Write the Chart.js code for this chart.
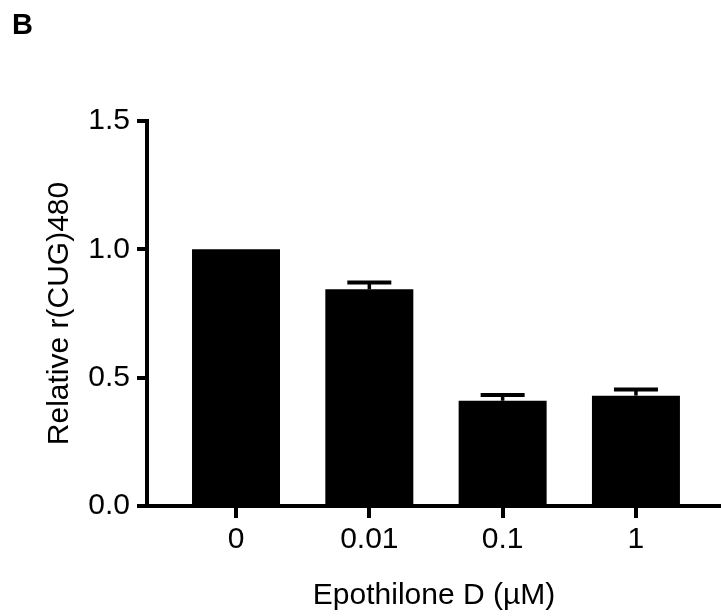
<!DOCTYPE html>
<html lang="en">
<head>
    <meta charset="UTF-8">
    <title>Relative r(CUG)480 vs Epothilone D</title>
    <script src="https://cdn.jsdelivr.net/npm/chart.js"></script>
    <style>
        html, body { margin: 0; padding: 0; background: #fff; }
        #wrap { width: 721px; height: 616px; }
    </style>
</head>
<body>
    <div id="wrap"><canvas id="barChart" width="721" height="616"></canvas></div>
    <script>
        // Data
        const doses = ['0', '0.01', '0.1', '1'];
        const means = [1.0, 0.844, 0.41, 0.43];
        const errors = [0, 0.027, 0.022, 0.024];
        const yTicks = [0, 0.5, 1.0, 1.5];

        const FONT = '"Liberation Sans", Arial, sans-serif';

        // Draw SEM bars (upper half only, lower half hides behind the bar)
        const errorBars = {
            id: 'errorBars',
            afterDatasetsDraw(chart) {
                const ctx = chart.ctx;
                const yScale = chart.scales.y;
                const meta = chart.getDatasetMeta(0);
                ctx.save();
                ctx.strokeStyle = '#000';
                meta.data.forEach((bar, i) => {
                    if (!errors[i]) return;
                    const yTop = yScale.getPixelForValue(means[i] + errors[i]);
                    const yBar = yScale.getPixelForValue(means[i]);
                    ctx.lineWidth = 3.5;
                    ctx.beginPath();
                    ctx.moveTo(bar.x, yBar);
                    ctx.lineTo(bar.x, yTop);
                    ctx.stroke();
                    ctx.lineWidth = 4;
                    ctx.beginPath();
                    ctx.moveTo(bar.x - 22, yTop);
                    ctx.lineTo(bar.x + 22, yTop);
                    ctx.stroke();
                });
                ctx.restore();
            }
        };

        // Panel letter
        const panelLabel = {
            id: 'panelLabel',
            afterDraw(chart) {
                const ctx = chart.ctx;
                ctx.save();
                ctx.fillStyle = '#000';
                ctx.font = 'bold 29px ' + FONT;
                ctx.textBaseline = 'alphabetic';
                ctx.fillText('B', 12, 34);
                ctx.restore();
            }
        };

        const ctx = document.getElementById('barChart').getContext('2d');
        new Chart(ctx, {
            type: 'bar',
            data: {
                datasets: [{
                    data: doses.map((d, i) => ({ x: i + 1, y: means[i] })),
                    backgroundColor: '#000',
                    borderWidth: 0,
                    categoryPercentage: 1,
                    barPercentage: 0.66
                }]
            },
            options: {
                responsive: false,
                animation: false,
                layout: { padding: { top: 121, right: 0, bottom: 0, left: 0 } },
                plugins: { legend: { display: false }, tooltip: { enabled: false } },
                scales: {
                    x: {
                        type: 'linear',
                        offset: false,
                        min: 0.3323,
                        max: 4.638,
                        afterBuildTicks: (scale) => { scale.ticks = doses.map((d, i) => ({ value: i + 1 })); },
                        afterFit: (scale) => { scale.height = 110; },
                        ticks: {
                            color: '#000',
                            font: { family: FONT, size: 30 },
                            padding: 4,
                            maxRotation: 0,
                            callback: (v) => doses[v - 1]
                        },
                        grid: { offset: false, drawOnChartArea: false, color: '#000', tickLength: 12, tickWidth: 4, lineWidth: 4 },
                        border: { color: '#000', width: 4 },
                        title: {
                            display: true,
                            text: 'Epothilone D (\u00b5M)',
                            color: '#000',
                            font: { family: FONT, size: 30 },
                            padding: { top: 0, bottom: 2 }
                        }
                    },
                    y: {
                        min: 0,
                        max: 1.5,
                        afterBuildTicks: (scale) => { scale.ticks = yTicks.map(v => ({ value: v })); },
                        afterFit: (scale) => { scale.width = 147; },
                        ticks: {
                            color: '#000',
                            font: { family: FONT, size: 30 },
                            padding: 7,
                            callback: (v) => v.toFixed(1)
                        },
                        grid: { drawOnChartArea: false, color: '#000', tickLength: 10, tickWidth: 4, lineWidth: 4 },
                        border: { color: '#000', width: 4 },
                        title: {
                            display: true,
                            text: 'Relative r(CUG)480',
                            color: '#000',
                            font: { family: FONT, size: 30 },
                            padding: { top: 42, bottom: 0 }
                        }
                    }
                }
            },
            plugins: [errorBars, panelLabel]
        });
    </script>
</body>
</html>
